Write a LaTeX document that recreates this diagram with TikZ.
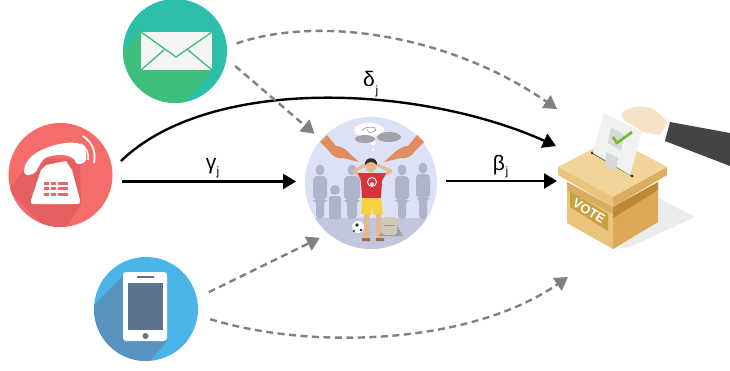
\documentclass[tikz,border=0pt]{standalone}
\usepackage{fontspec}
\setmainfont{Liberation Sans}
\usetikzlibrary{arrows.meta}
\definecolor{solidc}{HTML}{000000}
\definecolor{dashc}{HTML}{808080}
\definecolor{crust}{HTML}{D9AE63}
\definecolor{boxtop}{HTML}{F2D49A}
\definecolor{boxleft}{HTML}{EBC47C}
\definecolor{boxright}{HTML}{DBAA58}
\definecolor{boxband}{HTML}{BE8836}
\definecolor{skin}{HTML}{F6E2C4}
\definecolor{person}{HTML}{B0B4CA}
\definecolor{handc}{HTML}{E08D60}
\definecolor{skinb}{HTML}{E9B78C}
\tikzset{
  x=1pt,y=-1pt,
  source/.style={circle,minimum size=104pt,inner sep=0pt,outer sep=10pt},
  hub/.style={circle,minimum size=132pt,inner sep=0pt,outer sep=9pt},
  solidarrow/.style={draw=solidc,line width=2.4pt,-{Triangle[length=13pt,width=15pt]}},
  dasharrow/.style={draw=dashc,line width=2.4pt,dash pattern=on 7pt off 4.5pt,-{Triangle[length=13pt,width=15pt,fill=dashc]}},
  greek/.style={font=\fontsize{21}{22}\selectfont,inner sep=0pt,text=black},
  subj/.style={font=\fontsize{12}{13}\selectfont,inner sep=0pt,text=black},
}
\begin{document}
\begin{tikzpicture}[line join=round]
\useasboundingbox (0,0) rectangle (730,370);
\fill[white] (0,0) rectangle (730,370);
% source circles
\node[source] (email) at (175,51) {};
\node[source] (phone) at (60.5,175) {};
\node[source,outer sep=13pt] (mobile) at (146,309) {};
\node[hub] (hubc) at (371,183) {};
% --- email
\fill[color={rgb,255:red,45;green,191;blue,170}] (175,51) circle (52);
\begin{scope}
\clip (175,51) circle (52);
\fill[color={rgb,255:red,61;green,190;blue,125}] (141,32)--(112,62)--(160,125)--(186,100)--(212,72)--cycle;
\end{scope}
\fill[color={rgb,255:red,244;green,244;blue,244}] (141,32) rectangle (212,70);
\draw[color={rgb,255:red,61;green,190;blue,125},line width=1.3pt] (141,32)--(176,57)--(212,32) (141,70)--(164,50) (212,70)--(188,50);
% --- phone
\fill[color={rgb,255:red,246;green,108;blue,106}] (60.5,175) circle (52);
\begin{scope}
\clip (60.5,175) circle (52);
\fill[color={rgb,255:red,229;green,97;blue,97}] (24,170)--(8,190)--(58,240)--(81,204)--(80,160)--(45,158)--cycle;
\end{scope}
\fill[white] (46,165)--(66,161)--(72,170)--(80,200) .. controls (80,204) and (79,204) .. (77,204)--(33,204) .. controls (31,204) and (31,203) .. (31,200)--(41,170)--cycle;
\fill[white] (24,172) .. controls (24,160) and (35,151) .. (52,146) .. controls (68,141) and (82,141) .. (85,149)
  .. controls (87,156) and (87,162) .. (83,163) .. controls (79,165) and (76,164) .. (75,161) .. controls (73,155) and (60,153) .. (47,157) .. controls (41,160) and (40,165) .. (37,170) .. controls (33,176) and (25,177) .. (24,172) -- cycle;
\foreach \yy in {181.5,187,192.5}{\foreach \xx in {44,51,58,63}{
  \fill[color={rgb,255:red,240;green,100;blue,100}] (\xx,\yy) rectangle +(5.2,3);}}
\draw[white,line width=1.8pt] (83,136) .. controls (93,143) and (96,152) .. (94,163);
\draw[white,line width=1.6pt] (81,144) .. controls (87,149) and (89,153) .. (88,160);
% --- mobile
\fill[color={rgb,255:red,75;green,180;blue,230}] (146,309) circle (52);
\begin{scope}
\clip (146,309) circle (52);
\fill[color={rgb,255:red,88;green,147;blue,191}] (123,276)--(80,320)--(130,385)--(167,341)--cycle;
\end{scope}
\fill[white,rounded corners=3pt] (123,272) rectangle (167,341);
\fill[color={rgb,255:red,90;green,116;blue,144}] (128,283) rectangle (163,330);
\draw[color={rgb,255:red,90;green,116;blue,144},line width=1.2pt] (137,277)--(154,277);
\fill[color={rgb,255:red,90;green,116;blue,144}] (145.5,336) circle (3);
% --- hub illustration
\fill[color={rgb,255:red,221;green,225;blue,245}] (371,183) circle (66);
\begin{scope}
\clip (371,183) circle (66);
\fill[color={rgb,255:red,194;green,199;blue,222}] (300,218) rectangle (440,255);
\foreach \px/\py/\pw in {320/170/7,352/170/8,402/170/7,423/168/7}{
  \fill[person] (\px,\py) ellipse (4.5 and 5.5);
  \fill[person,rounded corners=4pt] (\px-\pw,\py+6) -- (\px+\pw,\py+6) -- (\px+\pw,\py+30) -- (\px+\pw-3,\py+30) -- (\px+\pw-3,219) -- (\px-\pw+3,219) -- (\px-\pw+3,\py+30) -- (\px-\pw,\py+30) -- cycle;
}
\fill[person] (335,190) circle (5);
\fill[person,rounded corners=2pt] (329,196) rectangle (341,219);
\end{scope}
% clouds
\fill[white] (369,130) ellipse (15 and 7);
\fill[white] (373,143) circle (2.5) (373,150) circle (1.5);
\draw[color=gray,line width=.5pt] (362,130) .. controls (366,126) and (376,126) .. (376,130) .. controls (372,134) and (366,133) .. (368,129);
\fill[color={rgb,255:red,160;green,163;blue,170}] (365,139) ellipse (10 and 4) (389,137) ellipse (12 and 5);
% pointing hands
\fill[handc] (327,135) -- (320,142) -- (329,151) .. controls (332,156) and (337,159) .. (343,158) .. controls (348,159) and (354,161) .. (359,162) -- (349,153) .. controls (345,148) and (340,146) .. (336,146) -- cycle;
\fill[handc] (417,135) -- (424,142) -- (415,151) .. controls (412,156) and (407,159) .. (401,158) .. controls (396,159) and (389,161) .. (384,162) -- (394,153) .. controls (399,148) and (404,146) .. (408,146) -- cycle;
% boy
\fill[skinb] (364,213) rectangle (369,238) (376,213) rectangle (381,238);
\fill[skinb] (371,166) ellipse (5.5 and 6.5);
\draw[skinb,line width=3pt] (360,176)--(354,171)--(365,165) (383,176)--(391,171)--(377,165);
\fill[color={rgb,255:red,60;green,40;blue,40}] (365,165) .. controls (364,156) and (378,156) .. (377,165) .. controls (374,161) and (368,161) .. (365,165);
\fill[color={rgb,255:red,216;green,50;blue,58}] (358,173)--(386,173)--(382,181)--(381,198)--(362,198)--(361,181)--cycle;
\draw[white,line width=.9pt] (372,182) circle (4.5) (372,184) circle (1.5);
\fill[color={rgb,255:red,246;green,209;blue,63}] (362,198)--(381,198)--(383,214)--(373,215)--(372,206)--(371,215)--(361,214)--cycle;
\fill[color={rgb,255:red,150;green,110;blue,90}] (362,238) rectangle (370,241) (376,238) rectangle (384,241);
\fill[white] (358,227) circle (6);
\fill[color={rgb,255:red,40;green,40;blue,50}] (357,225) circle (1.8) (361,230) circle (1.3) (354,231) circle (1.2);
\fill[color={rgb,255:red,150;green,160;blue,165}] (378,236) -- (403,236) -- (395,222) -- cycle;
\fill[color={rgb,255:red,210;green,200;blue,182},rounded corners=3pt] (382,217) rectangle (397,235);
\draw[color={rgb,255:red,160;green,150;blue,135},line width=.6pt] (384,225) -- (395,225);
% --- ballot box
\fill[color={rgb,255:red,236;green,236;blue,236}] (658,198)--(695,217)--(630,247)--(613,249)--cycle;
\fill[boxleft] (567,182)--(613,207)--(613,249)--(567,223)--cycle;
\fill[boxright] (613,207)--(658,182)--(658,222)--(613,249)--cycle;
\fill[boxband] (613,207)--(658,182)--(658,190)--(613,218)--cycle;
\fill[crust] (567,182)--(613,207)--(613,214)--(567,190)--cycle;
\fill[boxtop] (558,167)--(613,138)--(667,167)--(613,197)--cycle;
\fill[boxleft] (558,167)--(613,197)--(613,207)--(558,175)--cycle;
\fill[crust] (613,197)--(667,167)--(667,175)--(613,207)--cycle;
\fill[color={rgb,255:red,201;green,160;blue,64}] (570,191)--(608,214)--(608,231)--(570,207)--cycle;
\node[rotate=-31,inner sep=0pt,text=white,font=\bfseries\fontsize{13}{14}\selectfont] (votelabel) at (589,211) {VOTE};
\draw[color={rgb,255:red,60;green,50;blue,40},line width=.7pt] (592,153)--(632,176);
\fill[color={rgb,255:red,60;green,50;blue,40}] (592,153) circle (1.5) (632,176) circle (1.5);
% ballot paper
\fill[color={rgb,255:red,240;green,242;blue,242}] (604,113)--(642,132)--(630,175)--(593,153)--cycle;
\fill[color={rgb,255:red,215;green,218;blue,218}] (611,127)--(624,135)--(621,151)--(608,143)--cycle;
\fill[color={rgb,255:red,215;green,218;blue,218}] (606,152)--(618,158)--(616,172)--(605,165)--cycle;
\draw[color={rgb,255:red,115;green,185;blue,40},line width=2.6pt] (613,137)--(617,143)--(632,132);
% hand and sleeve
\fill[skin] (623,112) .. controls (630,106) and (645,104) .. (655,110) -- (668,122) -- (660,135) -- (643,132) -- (627,122) .. controls (622,119) and (621,115) .. (623,112) -- cycle;
\fill[white] (668,120)--(672,122)--(668,142)--(661,136)--cycle;
\fill[color={rgb,255:red,68;green,68;blue,68}] (670,122)--(730,133)--(730,166)--(665,141)--cycle;
% connectors
\coordinate (boxA) at (557,109);
\coordinate (boxB) at (556,146);
\coordinate (boxC) at (557,181);
\coordinate (boxD) at (568,277);
\draw[solidarrow] (phone.13) .. controls (210,75) and (420,85) .. (boxB);
\draw[solidarrow] (phone.-6) -- (hubc.west |- phone.-6);
\draw[solidarrow] (hubc.east |- boxC) -- (boxC);
\draw[dasharrow] (email.7) .. controls (320,15) and (450,35) .. (boxA);
\draw[dasharrow] (email.-14) -- (hubc.139);
\draw[dasharrow] (mobile.15) -- (hubc.227);
\draw[dasharrow] (mobile.-9) .. controls (310,350) and (470,345) .. (boxD);
% labels
\node[greek] (delta) at (369,79) {δ};
\node[subj] (dj) at (377,91) {j};
\node[greek] (gamma) at (211,166) {γ};
\node[subj] (gj) at (218,172) {j};
\node[greek] (beta) at (499,165) {β};
\node[subj] (bj) at (507,172) {j};
\end{tikzpicture}
\end{document}
